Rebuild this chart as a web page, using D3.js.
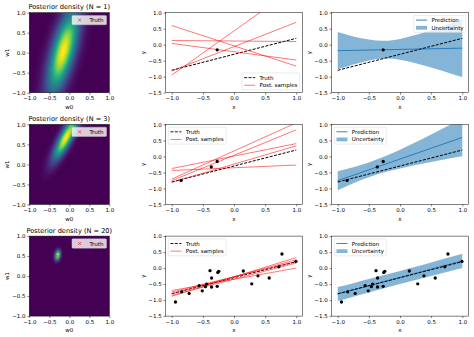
<!DOCTYPE html>
<html>
<head>
<meta charset="utf-8">
<script src="https://cdn.jsdelivr.net/npm/d3@7"></script>
<style>
  body { margin: 0; background: #fff; }
  svg { display: block; font-family: "DejaVu Sans", sans-serif; }
</style>
</head>
<body>
<svg id="fig" width="474" height="337"></svg>
<script>
// number of observed points per row
var rowCounts = [1, 3, 20];

var heatTicks = [-1, -0.5, 0, 0.5, 1];
var xTicks = [-1, -0.5, 0, 0.5, 1];
var yTicks = [1, 0.5, 0, -0.5, -1, -1.5];

// true weights (w0, w1) and the true line at x = -1 and x = 1
var truthW = [-0.3, 0.5];
var lineEndsX = [-1, 1];
var truthLineY = [-0.8, 0.2];

// posterior over (w0, w1): mean w0, mean w1, sd w0, sd w1, correlation
var postN1 = [-0.15, 0.04, 0.257, 0.684, 0.66];
var postN3 = [-0.08, 0.675, 0.211, 0.366, 0.84];
var postN20 = [-0.29, 0.52, 0.046, 0.081, 0.22];

// observed points
var obsXN1 = [-0.27];
var obsYN1 = [-0.16];
var obsXN3 = [-0.85, -0.365, -0.27];
var obsYN3 = [-0.75, -0.33, -0.16];
var obsXN20 = [-0.94, -0.84, -0.72, -0.56, -0.51, -0.46, -0.44, -0.385, -0.36, -0.36,
               -0.27, -0.26, -0.245, 0.15, 0.285, 0.385, 0.565, 0.72, 0.77, 0.995];
var obsYN20 = [-1.06, -0.74, -0.79, -0.55, -0.71, -0.58, -0.50, -0.08, -0.59, -0.31,
               -0.57, -0.135, -0.10, -0.09, -0.49, -0.24, -0.31, 0.04, 0.44, 0.21];

// posterior sample lines: y at x = -1 and x = 1
var samplesN1 = [[-0.95, 1.81], [0.60, -0.67], [0.13, 0.10], [0.04, -0.48], [-0.82, 0.70]];
var samplesN3 = [[-0.44, -0.27], [-0.38, 0.40], [-0.71, 1.05], [-0.76, 0.83], [-0.81, 0.33]];
var samplesN20 = [[-0.88, 0.33], [-0.80, 0.26], [-0.75, 0.21], [-0.85, 0.16], [-0.70, 0.00]];

// predictive mean at x = -1 and x = 1
var predN1 = [-0.187, -0.108];
var predN3 = [-0.758, 0.592];
var predN20 = [-0.81, 0.226];

// predictive band (mean +/- 1 sd)
var bandX = [-1, -0.75, -0.5, -0.25, 0, 0.25, 0.5, 0.75, 1];
var bandLoN1 = [-0.77, -0.62, -0.49, -0.43, -0.47, -0.58, -0.71, -0.86, -1.01];
var bandHiN1 = [0.40, 0.26, 0.16, 0.12, 0.18, 0.30, 0.46, 0.62, 0.79];
var bandLoN3 = [-1.056, -0.839, -0.651, -0.498, -0.375, -0.270, -0.174, -0.085, 0.001];
var bandHiN3 = [-0.462, -0.340, -0.191, -0.006, 0.208, 0.440, 0.682, 0.931, 1.182];
var bandLoN20 = [-1.027, -0.892, -0.759, -0.627, -0.497, -0.370, -0.244, -0.120, 0.002];
var bandHiN20 = [-0.594, -0.470, -0.344, -0.216, -0.087, 0.045, 0.178, 0.314, 0.451];

var rows = [
  { n: rowCounts[0], post: postN1, ox: obsXN1, oy: obsYN1, samples: samplesN1, pred: predN1, lo: bandLoN1, hi: bandHiN1 },
  { n: rowCounts[1], post: postN3, ox: obsXN3, oy: obsYN3, samples: samplesN3, pred: predN3, lo: bandLoN3, hi: bandHiN3 },
  { n: rowCounts[2], post: postN20, ox: obsXN20, oy: obsYN20, samples: samplesN20, pred: predN20, lo: bandLoN20, hi: bandHiN20 }
];

var C0 = "#1f77b4";
var fs = 5.5;
var rowTop = [12.7, 124.4, 236.1];
var axH = 80;
var heatL = 29.3, heatW = 80;
var midL = 165.5, rightL = 331.5, panelW = 137;

var svg = d3.select("#fig");
var fmt = d3.format(".1f");

function densityImage(p) {
  var n = 100, cv = document.createElement("canvas");
  cv.width = n; cv.height = n;
  var ctx = cv.getContext("2d");
  var vals = [];
  for (var j = 0; j < n; j++) {
    var w1 = 1 - 2 * (j + 0.5) / n;
    for (var i = 0; i < n; i++) {
      var w0 = -1 + 2 * (i + 0.5) / n;
      var dx = (w0 - p[0]) / p[2], dy = (w1 - p[1]) / p[3], r = p[4];
      vals.push(Math.exp(-0.5 * (dx * dx - 2 * r * dx * dy + dy * dy) / (1 - r * r)));
    }
  }
  var color = d3.scaleSequential(d3.interpolateViridis).domain(d3.extent(vals));
  var img = ctx.createImageData(n, n);
  vals.forEach(function(v, k) {
    var c = d3.rgb(color(v));
    img.data[k * 4] = c.r; img.data[k * 4 + 1] = c.g; img.data[k * 4 + 2] = c.b; img.data[k * 4 + 3] = 255;
  });
  ctx.putImageData(img, 0, 0);
  return cv.toDataURL();
}

function axes(g, x, y, xt, yt, top, left) {
  g.append("g")
    .attr("transform", "translate(0," + (top + axH) + ")")
    .call(d3.axisBottom(x).tickValues(xt).tickFormat(fmt).tickSize(1.9).tickPadding(1.9))
    .call(styleAxis);
  g.append("g")
    .attr("transform", "translate(" + left + ",0)")
    .call(d3.axisLeft(y).tickValues(yt).tickFormat(fmt).tickSize(1.9).tickPadding(1.9))
    .call(styleAxis);
}

function styleAxis(a) {
  a.select(".domain").remove();
  a.selectAll("line").attr("stroke", "#000").attr("stroke-width", 0.5);
  a.selectAll("text").attr("font-size", fs).attr("font-family", "DejaVu Sans").attr("fill", "#000");
}

function frame(g, left, top, w) {
  g.append("rect").attr("x", left).attr("y", top).attr("width", w).attr("height", axH)
    .attr("fill", "none").attr("stroke", "#000").attr("stroke-width", 0.5);
}

function labels(g, left, top, w, xl, yl, yOff) {
  g.append("text").attr("x", left + w / 2).attr("y", top + axH + 16.3)
    .attr("text-anchor", "middle").attr("font-size", fs).text(xl);
  g.append("text").attr("transform", "translate(" + (left - yOff) + "," + (top + axH / 2) + ") rotate(-90)")
    .attr("text-anchor", "middle").attr("font-size", fs).text(yl);
}

function legend(g, x, y, w, items) {
  var h = 4.4 + items.length * 4.9 + (items.length - 1) * 2.75;
  g.append("rect").attr("x", x).attr("y", y).attr("width", w).attr("height", h).attr("rx", 1)
    .attr("fill", "#fff").attr("fill-opacity", 0.8).attr("stroke", "#ccc").attr("stroke-width", 0.4);
  items.forEach(function(it, i) {
    var cy = y + 2.2 + 2.45 + i * 7.65, hx = x + 2.2;
    if (it.type === "line" || it.type === "dash") {
      g.append("line").attr("x1", hx).attr("x2", hx + 11).attr("y1", cy).attr("y2", cy)
        .attr("stroke", it.color).attr("stroke-opacity", it.opacity || 1).attr("stroke-width", 0.9)
        .attr("stroke-dasharray", it.type === "dash" ? "3,1.4" : null);
    } else if (it.type === "patch") {
      g.append("rect").attr("x", hx).attr("y", cy - 1.9).attr("width", 11).attr("height", 3.8)
        .attr("fill", it.color).attr("fill-opacity", 0.55);
    } else {
      cross(g, hx + 5.5, cy, it.color);
    }
    g.append("text").attr("x", hx + 15.4).attr("y", cy + 2).attr("font-size", fs).text(it.label);
  });
}

function cross(g, cx, cy, color) {
  var s = 1.5;
  g.append("path").attr("d", "M" + (cx - s) + "," + (cy - s) + "L" + (cx + s) + "," + (cy + s) +
    "M" + (cx - s) + "," + (cy + s) + "L" + (cx + s) + "," + (cy - s))
    .attr("stroke", color).attr("stroke-width", 0.7);
}

function dots(g, x, y, xs, ys) {
  g.selectAll(null).data(xs).enter().append("circle")
    .attr("cx", function(d) { return x(d); })
    .attr("cy", function(d, i) { return y(ys[i]); })
    .attr("r", 1.65).attr("fill", "#000");
}

rows.forEach(function(row, r) {
  var top = rowTop[r];

  // posterior density
  var hg = svg.append("g");
  var hx = d3.scaleLinear().domain([-1, 1]).range([heatL, heatL + heatW]);
  var hy = d3.scaleLinear().domain([-1, 1]).range([top + axH, top]);
  hg.append("image").attr("x", heatL).attr("y", top).attr("width", heatW).attr("height", axH)
    .attr("preserveAspectRatio", "none").attr("href", densityImage(row.post));
  cross(hg, hx(truthW[0]), hy(truthW[1]), "#e8262b");
  frame(hg, heatL, top, heatW);
  axes(hg, hx, hy, heatTicks, heatTicks, top, heatL);
  labels(hg, heatL, top, heatW, "w0", "w1", 20.5);
  hg.append("text").attr("x", heatL + heatW / 2).attr("y", top - 3.3).attr("text-anchor", "middle")
    .attr("font-size", 6.6).text("Posterior density (N = " + row.n + ")");
  legend(hg, heatL + heatW - 2.75 - 34.6, top + 2.75, 34.6, [{ type: "marker", color: "#e8262b", label: "Truth" }]);

  // data space panels share these scales
  var clipId = "clip" + r;
  function panel(left) {
    var g = svg.append("g");
    var cid = clipId + "-" + left;
    g.append("clipPath").attr("id", cid).append("rect")
      .attr("x", left).attr("y", top).attr("width", panelW).attr("height", axH);
    var x = d3.scaleLinear().domain([-1.1, 1.1]).range([left, left + panelW]);
    var y = d3.scaleLinear().domain([-1.5, 1]).range([top + axH, top]);
    var plot = g.append("g").attr("clip-path", "url(#" + cid + ")");
    return { g: g, plot: plot, x: x, y: y, left: left };
  }

  function truthLine(p) {
    p.plot.append("line")
      .attr("x1", p.x(lineEndsX[0])).attr("y1", p.y(truthLineY[0]))
      .attr("x2", p.x(lineEndsX[1])).attr("y2", p.y(truthLineY[1]))
      .attr("stroke", "#000").attr("stroke-width", 1).attr("stroke-dasharray", "3,1.4");
  }

  // posterior samples
  var m = panel(midL);
  truthLine(m);
  m.plot.selectAll(null).data(row.samples).enter().append("line")
    .attr("x1", m.x(lineEndsX[0])).attr("x2", m.x(lineEndsX[1]))
    .attr("y1", function(d) { return m.y(d[0]); })
    .attr("y2", function(d) { return m.y(d[1]); })
    .attr("stroke", "red").attr("stroke-opacity", 0.6).attr("stroke-width", 0.9);
  dots(m.plot, m.x, m.y, row.ox, row.oy);
  frame(m.g, midL, top, panelW);
  axes(m.g, m.x, m.y, xTicks, yTicks, top, midL);
  labels(m.g, midL, top, panelW, "x", "y", 21);
  var mItems = [{ type: "dash", color: "#000", label: "Truth" },
                { type: "line", color: "red", opacity: 0.6, label: "Post. samples" }];
  if (r === 0) legend(m.g, midL + panelW - 2.75 - 57.8, top + axH - 2.75 - 17, 57.8, mItems);
  else legend(m.g, midL + 2.75, top + 2.75, 57.8, mItems);

  // predictive distribution
  var p = panel(rightL);
  var area = d3.area()
    .x(function(d, i) { return p.x(bandX[i]); })
    .y0(function(d, i) { return p.y(row.lo[i]); })
    .y1(function(d, i) { return p.y(row.hi[i]); })
    .curve(d3.curveNatural);
  p.plot.append("path").datum(bandX).attr("d", area).attr("fill", C0).attr("fill-opacity", 0.55);
  p.plot.append("line")
    .attr("x1", p.x(lineEndsX[0])).attr("y1", p.y(row.pred[0]))
    .attr("x2", p.x(lineEndsX[1])).attr("y2", p.y(row.pred[1]))
    .attr("stroke", C0).attr("stroke-width", 0.9);
  truthLine(p);
  dots(p.plot, p.x, p.y, row.ox, row.oy);
  frame(p.g, rightL, top, panelW);
  axes(p.g, p.x, p.y, xTicks, yTicks, top, rightL);
  labels(p.g, rightL, top, panelW, "x", "y", 21);
  var pItems = [{ type: "line", color: C0, label: "Prediction" },
                { type: "patch", color: C0, label: "Uncertainty" }];
  if (r === 0) legend(p.g, rightL + panelW - 2.75 - 51.9, top + 2.75, 51.9, pItems);
  else legend(p.g, rightL + 2.75, top + 2.75, 51.9, pItems);
});
</script>
</body>
</html>
